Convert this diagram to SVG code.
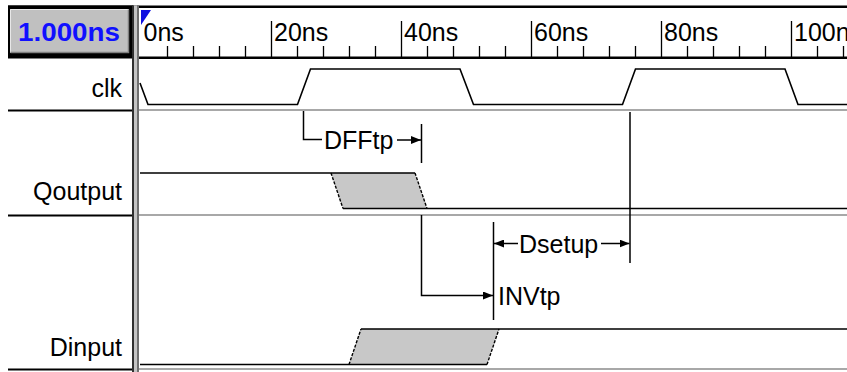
<svg xmlns="http://www.w3.org/2000/svg" width="847" height="372" viewBox="0 0 847 372">
<style>
text{font-family:"Liberation Sans",Arial,sans-serif;font-size:25px;fill:#000}
.lbl{text-anchor:end}
.w{fill:none;stroke:#000;stroke-width:1.6}
.sep{stroke:#a8a8a8;stroke-width:2}
.lsep{stroke:#000;stroke-width:2}
.tick{stroke:#000;stroke-width:1.3}
.shade{fill:#c8c8c8;stroke:none}
.edge{stroke:#000;stroke-width:1.4;stroke-dasharray:3 1.5;fill:none}
.ann{fill:none;stroke:#000;stroke-width:1.5}
</style>
<defs>
<marker id="ah" viewBox="0 0 10 8" refX="10" refY="4" markerWidth="10" markerHeight="8" markerUnits="userSpaceOnUse" orient="auto">
<path d="M0,0 L10,4 L0,8 Z" fill="#000"/>
</marker>
</defs>
<rect x="0" y="0" width="847" height="372" fill="#fff"/>

<g id="ruler">
<rect x="8" y="5.5" width="839" height="2.5" fill="#000"/>
<rect x="139" y="56.5" width="708" height="2.5" fill="#000"/>
<path class="tick" d="M167.5,46V57M193.5,46V57M219.5,46V57M245.5,46V57M297.5,46V57M323.5,46V57M349.5,46V57M375.5,46V57M427.5,46V57M453.5,46V57M479.5,46V57M505.5,46V57M557.5,46V57M583.5,46V57M609.5,46V57M635.5,46V57M687.5,46V57M713.5,46V57M739.5,46V57M765.5,46V57M817.5,46V57M843.5,46V57"/>
<path class="tick" d="M271.5,21V57M401.5,21V57M531.5,21V57M661.5,21V57M791.5,21V57"/>
<text x="143.5" y="40.5">0ns</text>
<text x="274" y="40.5">20ns</text>
<text x="404" y="40.5">40ns</text>
<text x="534" y="40.5">60ns</text>
<text x="664" y="40.5">80ns</text>
<text x="794" y="40.5">100ns</text>
<path d="M141,10 L151,10 L141,25 Z" fill="#1010e0"/>
</g>

<g id="scale-button">
<rect x="8" y="5.5" width="125" height="53" fill="#000"/>
<rect x="10" y="9" width="119" height="44" fill="#c0c0c0"/>
<path d="M10.5,52.5V9.5H128.5" fill="none" stroke="#e8e8e8" stroke-width="1"/>
<path d="M10.5,52.5H128.5V9.5" fill="none" stroke="#808080" stroke-width="1.5"/>
<text x="18" y="41" font-weight="bold" fill="#1010ff" style="fill:#1010ff;font-weight:bold" textLength="102" lengthAdjust="spacingAndGlyphs">1.000ns</text>
</g>

<g id="divider">
<rect x="132" y="5.5" width="2" height="367" fill="#303030"/>
<rect x="134" y="5.5" width="3" height="367" fill="#c4c4c4"/>
<rect x="137" y="5.5" width="2" height="367" fill="#707070"/>
</g>

<g id="separators">
<line class="lsep" x1="8" y1="110.5" x2="132" y2="110.5"/>
<line class="lsep" x1="8" y1="215.5" x2="132" y2="215.5"/>
<line class="lsep" x1="8" y1="369.5" x2="132" y2="369.5"/>
<line class="sep" x1="139" y1="110" x2="847" y2="110"/>
<line class="sep" x1="139" y1="215" x2="847" y2="215"/>
<line class="sep" x1="139" y1="369" x2="847" y2="369"/>
</g>

<g id="clk">
<text class="lbl" x="122" y="97">clk</text>
<path class="w" d="M140,83 L148,104.5 H297.5 L310.5,69 H460 L473.5,104.5 H622.5 L635.5,69 H785 L798,104.5 H847"/>
</g>

<g id="Qoutput">
<text class="lbl" x="122" y="199.5">Qoutput</text>
<path class="shade" d="M331,173 H415 L427,208.5 H343 Z"/>
<path class="w" d="M140,173 H415 M343,208.5 H847"/>
<path class="edge" d="M331,173 L343,208.5 M415,173 L427,208.5"/>
</g>

<g id="Dinput">
<text class="lbl" x="122" y="356">Dinput</text>
<path class="shade" d="M349,364.5 L361,329 H499 L487,364.5 Z"/>
<path class="w" d="M140,364.5 H487 M361,329 H847"/>
<path class="edge" d="M349,364.5 L361,329 M487,364.5 L499,329"/>
</g>

<g id="connectors">
<path class="ann" d="M303.5,111 V139.5 H322"/>
<text x="324" y="149">DFFtp</text>
<line class="ann" x1="397" y1="140" x2="421" y2="140" marker-end="url(#ah)"/>
<line class="ann" x1="421.5" y1="124" x2="421.5" y2="163"/>
<path class="ann" d="M421.5,215 V295.5 H493" marker-end="url(#ah)"/>
<line class="ann" x1="493.5" y1="222" x2="493.5" y2="320"/>
<text x="498" y="305">INVtp</text>
<line class="ann" x1="518" y1="243.5" x2="494" y2="243.5" marker-end="url(#ah)"/>
<text x="519" y="253">Dsetup</text>
<line class="ann" x1="601" y1="243.5" x2="629.5" y2="243.5" marker-end="url(#ah)"/>
<line class="ann" x1="630" y1="112" x2="630" y2="263"/>
</g>
</svg>
